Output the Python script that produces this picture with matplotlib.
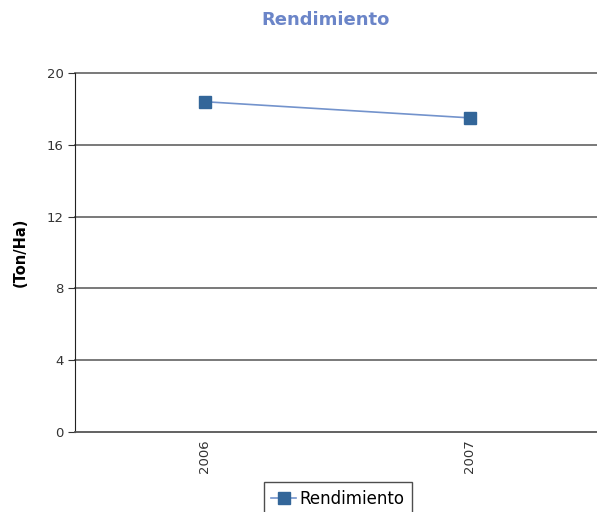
import matplotlib
matplotlib.use('Agg')
import matplotlib.pyplot as plt
import numpy as np

plt.rcParams['font.family'] = ['DejaVu Sans']

years = ['2006', '2007']
rendimiento = [18.4, 17.5]
yticks = [0, 4, 8, 12, 16, 20]

fig = plt.figure(figsize=(5.97, 5.12), dpi=100)
ax = fig.add_axes([75/597, 80/512, 527.5/597, 359/512])

x = np.arange(len(years))
ax.plot(x, rendimiento, color='#7393cc', linewidth=1.2, marker='s',
        markersize=8, markerfacecolor='#336699', markeredgecolor='#336699',
        label='Rendimiento', zorder=3)

ax.set_xlim(-0.49, 1.5)
ax.set_ylim(0, 20)
ax.set_yticks(yticks)
ax.set_yticklabels([str(v) for v in yticks], fontsize=9.5, color='#333333')
ax.set_xticks(x)
ax.set_xticklabels(years, rotation=90, fontsize=9.5, color='#333333')
ax.tick_params(axis='x', length=0, pad=5)
ax.tick_params(axis='y', length=5, color='#333333', pad=3)

for v in yticks[1:]:
    ax.axhline(v, color='#6e6e6e', linewidth=1.3, zorder=1, clip_on=False)

for s in ['top', 'right']:
    ax.spines[s].set_visible(False)
ax.spines['left'].set_color('#222222')
ax.spines['bottom'].set_color('#555555')
ax.spines['bottom'].set_linewidth(1.3)

ax.set_ylabel('(Ton/Ha)', fontsize=10.5, fontweight='bold', labelpad=14)
fig.text(326/597, 1 - 20/512, 'Rendimiento', ha='center', va='center',
         fontsize=13, fontweight='bold', color='#6b85c8')

fig.legend(loc='upper center', bbox_to_anchor=(338/597, 1 - 482/512),
           borderaxespad=0, fontsize=12, frameon=True, fancybox=False,
           edgecolor='#222222', handlelength=1.5, handletextpad=0.2,
           borderpad=0.45)

fig.savefig('out.png', dpi=100)
